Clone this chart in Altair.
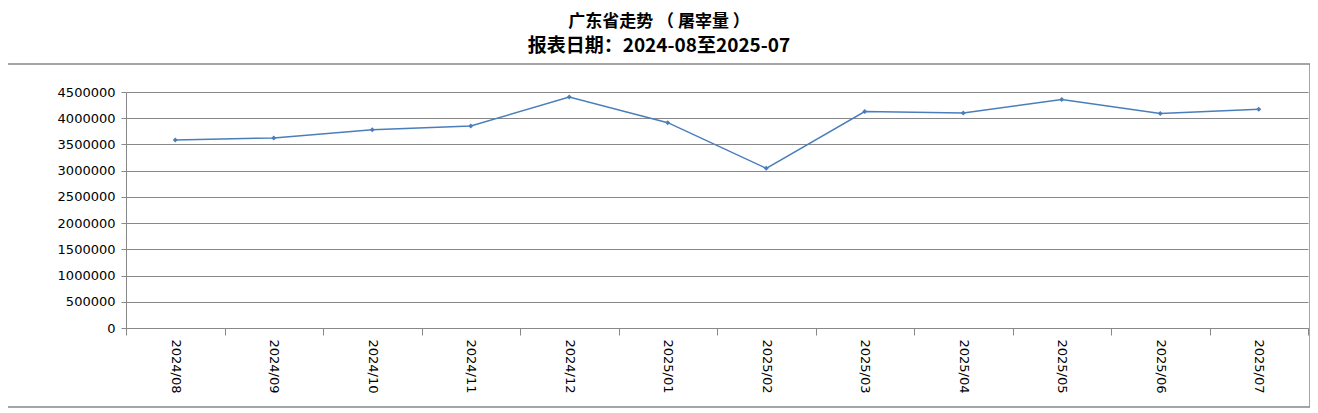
import altair as alt
import pandas as pd

months = ["2024/08", "2024/09", "2024/10", "2024/11", "2024/12", "2025/01",
          "2025/02", "2025/03", "2025/04", "2025/05", "2025/06", "2025/07"]
values = [3585000, 3625000, 3780000, 3852000, 4405000, 3915000,
          3045000, 4127000, 4098000, 4358000, 4088000, 4172000]
y_ticks = [0, 500000, 1000000, 1500000, 2000000, 2500000, 3000000,
           3500000, 4000000, 4500000]

title_text = "广东省走势 （ 屠宰量 ）"
subtitle_text = "报表日期：2024-08至2025-07"

df = pd.DataFrame({"month": months, "value": values})

W, H = 1182, 236
GRAY = "#888888"
BLUE = "#4a7ebb"

x_enc = alt.X(
    "month:N", sort=months, title=None,
    scale=alt.Scale(type="band", paddingInner=0, paddingOuter=0),
    axis=alt.Axis(labelAngle=90, labelAlign="left", labelBaseline="middle",
                  tickBand="extent", tickSize=7, labelPadding=4,
                  domainColor=GRAY, tickColor=GRAY, labelFont="DejaVu Sans",
                  labelFontSize=13, labelColor="#000000", grid=False),
)
y_enc = alt.Y(
    "value:Q", title=None,
    scale=alt.Scale(domain=[0, 4500000], nice=False, zero=True),
    axis=alt.Axis(values=y_ticks, format="d", grid=True, gridColor=GRAY,
                  gridOpacity=1, tickSize=5, labelPadding=6, domainColor=GRAY,
                  tickColor=GRAY, labelFont="DejaVu Sans", labelFontSize=13,
                  labelColor="#000000"),
)

line = alt.Chart(df).mark_line(
    color=BLUE, strokeWidth=1.5,
    point=alt.OverlayMarkDef(shape="diamond", size=25, filled=True, color=BLUE),
).encode(x=x_enc, y=y_enc)

border = alt.Chart(alt.Data(values=[{"a": 1}])).mark_rect(
    fill="transparent", stroke=GRAY, strokeWidth=1.5,
).encode(x=alt.value(-120), x2=alt.value(W + 2), y=alt.value(-28), y2=alt.value(315))

chart = alt.layer(border, line).properties(
    width=W, height=H,
    title=alt.TitleParams(
        text=title_text, subtitle=subtitle_text, anchor="middle", dx=-58,
        font="Noto Sans CJK SC", fontSize=17, fontWeight="bold", color="#000000",
        subtitleFont="Noto Sans CJK SC", subtitleFontSize=19,
        subtitleFontWeight="bold", subtitleColor="#000000",
        offset=6, subtitlePadding=6,
    ),
    autosize=alt.AutoSizeParams(type="none"),
    padding={"left": 118, "top": 84, "right": 2, "bottom": 81},
).configure_view(strokeWidth=0)

chart.save("out.html", embed_options={"renderer": "svg", "actions": False})
